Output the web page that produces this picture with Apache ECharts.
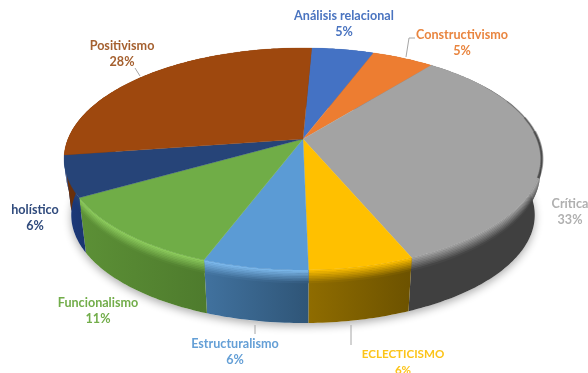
<!DOCTYPE html>
<html>
<head>
<meta charset="utf-8">
<title>Corrientes</title>
<style>html,body{margin:0;padding:0;background:#fff}#chart{width:588px;height:373px}</style>
<script src="https://cdn.jsdelivr.net/npm/echarts@6/dist/echarts.min.js"></script>
</head>
<body>
<div id="chart"></div>
<script>
// Slice names and their percentages, clockwise from the top of the disc.
const categories = ['Análisis relacional', 'Constructivismo', 'Crítica', 'ECLECTICISMO',
  'Estructuralismo', 'Funcionalismo', 'holístico', 'Positivismo'];
const values = [5, 5, 33, 6, 6, 11, 6, 28];

// Palette per slice: top face, label, lit rim, wall left, wall right.
const faceColors = ['#4472c4', '#ed7d31', '#a3a3a3', '#ffc000', '#5b9bd5', '#70ad47', '#264478', '#9e480e'];
const labelColors = ['#4a74c0', '#e9853f', '#b0b0b0', '#fcc419', '#649fd6', '#72ad4a', '#2f4a7c', '#a5602f'];
const rimColors = ['#4472c4', '#ed7d31', '#a3a3a3', '#ffc000', '#7fbcf0', '#90d060', '#264478', '#9e480e'];
const wallLeft = ['#2d4c84', '#9e5320', '#404040', '#8f6c00', '#41729f', '#5c9036', '#1d3a7c', '#6a300a'];
const wallRight = ['#2d4c84', '#9e5320', '#404040', '#6c5200', '#2f5577', '#4e7b2d', '#1a3570', '#6a300a'];

// Label centres, sizes and leader lines, in page pixels.
const labelCentres = [[344, 24], [462, 43], [570, 212], [403, 362], [235, 352], [98, 311], [35, 218], [122, 54]];
const labelSizes = [12.6, 12.6, 12.6, 11.6, 12.6, 12.6, 12.6, 12.6];
const leaderLines = [
  [], [[415, 38], [409, 38], [406, 57]], [], [[351, 325], [351, 345]],
  [[255, 325], [255, 334]], [], [], [[135, 68], [140, 76]]
];
// Shading along the disc's right shoulder: from angle, to angle, width, opacity.
const shoulderShade = [[58, 110, 1, 0.14], [68, 110, 1.6, 0.2], [78, 110, 2.4, 0.28], [86, 110, 3.2, 0.3]];

// Perspective model of the disc: the far edge looks flatter than the near edge.
const cx = 303, skew = 0.18, startAngle = 2.5;
const topFace = { y0: 139, a: 235, b: 107.4 };
const baseFace = { y0: 195.6, a: 228, b: 104.5 };
const bevelDepth = 0.24, bevelSteps = 8;

const total = values.reduce((s, v) => s + v, 0);
function sliceRange(i) {
  let before = 0;
  for (let k = 0; k < i; k++) before += values[k];
  return [startAngle + before / total * 360, startAngle + (before + values[i]) / total * 360];
}
function project(face, deg) {
  const r = deg * Math.PI / 180, s = Math.sin(r), c = Math.cos(r), d = 1 + skew * c;
  return [cx + face.a * s / d, face.y0 - face.b * c / d];
}
function arc(face, from, to) {
  const pts = [], n = Math.max(2, Math.ceil(Math.abs(to - from)));
  for (let i = 0; i <= n; i++) pts.push(project(face, from + (to - from) * i / n));
  return pts;
}
function mix(a, b, t) {
  const p = h => [1, 3, 5].map(o => parseInt(h.substr(o, 2), 16));
  const A = p(a), B = p(b);
  return 'rgb(' + A.map((v, i) => Math.round(v + (B[i] - v) * t)).join(',') + ')';
}
const lerpPts = (pa, pb, t) => pa.map((q, i) => [q[0] + (pb[i][0] - q[0]) * t, q[1] + (pb[i][1] - q[1]) * t]);

// Walls of the disc: a graded bevel below the rim, then the plain wall.
function renderWalls(params, api) {
  const i = api.value(0), [from, to] = sliceRange(i);
  const rimTop = arc(topFace, from, to), rimBase = arc(baseFace, from, to);
  const xs = rimTop.concat(rimBase).map(p => p[0]);
  const x1 = Math.min(...xs), x2 = Math.max(...xs);
  const fill = (l, r) => ({ type: 'linear', global: true, x: x1, y: 0, x2: x2, y2: 0,
    colorStops: [{ offset: 0, color: l }, { offset: 1, color: r }] });
  const children = [];
  if (i === 0) {
    children.push({ type: 'polygon', shape: { points: arc(baseFace, 0, 360) },
      style: { fill: '#fff', shadowBlur: 9, shadowOffsetY: 3, shadowColor: 'rgba(0,0,0,0.32)' } });
  }
  children.push({ type: 'polygon', shape: { points: rimTop.concat(rimBase.slice().reverse()) },
    style: { fill: fill(wallLeft[i], wallRight[i]) } });
  for (let s = 0; s < bevelSteps; s++) {
    const t0 = s / bevelSteps * bevelDepth, t1 = (s + 1.3) / bevelSteps * bevelDepth;
    const u = (s + 0.5) / bevelSteps;
    const upper = lerpPts(rimTop, rimBase, t0), lower = lerpPts(rimTop, rimBase, t1);
    children.push({ type: 'polygon', shape: { points: upper.concat(lower.reverse()) },
      style: { fill: fill(mix(rimColors[i], wallLeft[i], u), mix(rimColors[i], wallRight[i], u)) } });
  }
  return { type: 'group', children };
}

// Top face of each slice, fanned out from the hub.
function renderFace(params, api) {
  const i = api.value(0), [from, to] = sliceRange(i);
  const hub = [cx, topFace.y0];
  const children = [{ type: 'polygon', shape: { points: [hub].concat(arc(topFace, from, to)) },
    style: { fill: faceColors[i], stroke: faceColors[i], lineWidth: 0.3 } }];
  if (i === 2) {
    shoulderShade.forEach(([a, b, w, o]) => {
      children.push({ type: 'polyline', shape: { points: arc(topFace, a, b) },
        style: { fill: 'none', stroke: 'rgba(30,30,30,' + o + ')', lineWidth: w } });
    });
  }
  return { type: 'group', children };
}

// Name and percentage of each slice, with its leader line where it has one.
function renderLabel(params, api) {
  const i = api.value(0), c = labelCentres[i];
  const children = [{ type: 'text', style: {
    x: c[0], y: c[1], text: categories[i] + '\n' + api.value(1) + '%',
    align: 'center', verticalAlign: 'middle', lineHeight: 16,
    font: 'bold ' + labelSizes[i] + 'px Lato', fill: labelColors[i] } }];
  if (leaderLines[i].length) {
    children.push({ type: 'polyline', shape: { points: leaderLines[i] },
      style: { fill: 'none', stroke: '#a6a6a6', lineWidth: 1 } });
  }
  return { type: 'group', children };
}

const rows = values.map((v, i) => [i, v]);
const layer = (renderItem, z) => ({ type: 'custom', coordinateSystem: 'none', renderItem, data: rows,
  z, silent: true, clip: false, animation: false });

const chart = echarts.init(document.getElementById('chart'), null, { renderer: 'canvas' });
chart.setOption({
  backgroundColor: '#ffffff',
  animation: false,
  series: [layer(renderWalls, 1), layer(renderFace, 2), layer(renderLabel, 3)]
});
</script>
</body>
</html>
